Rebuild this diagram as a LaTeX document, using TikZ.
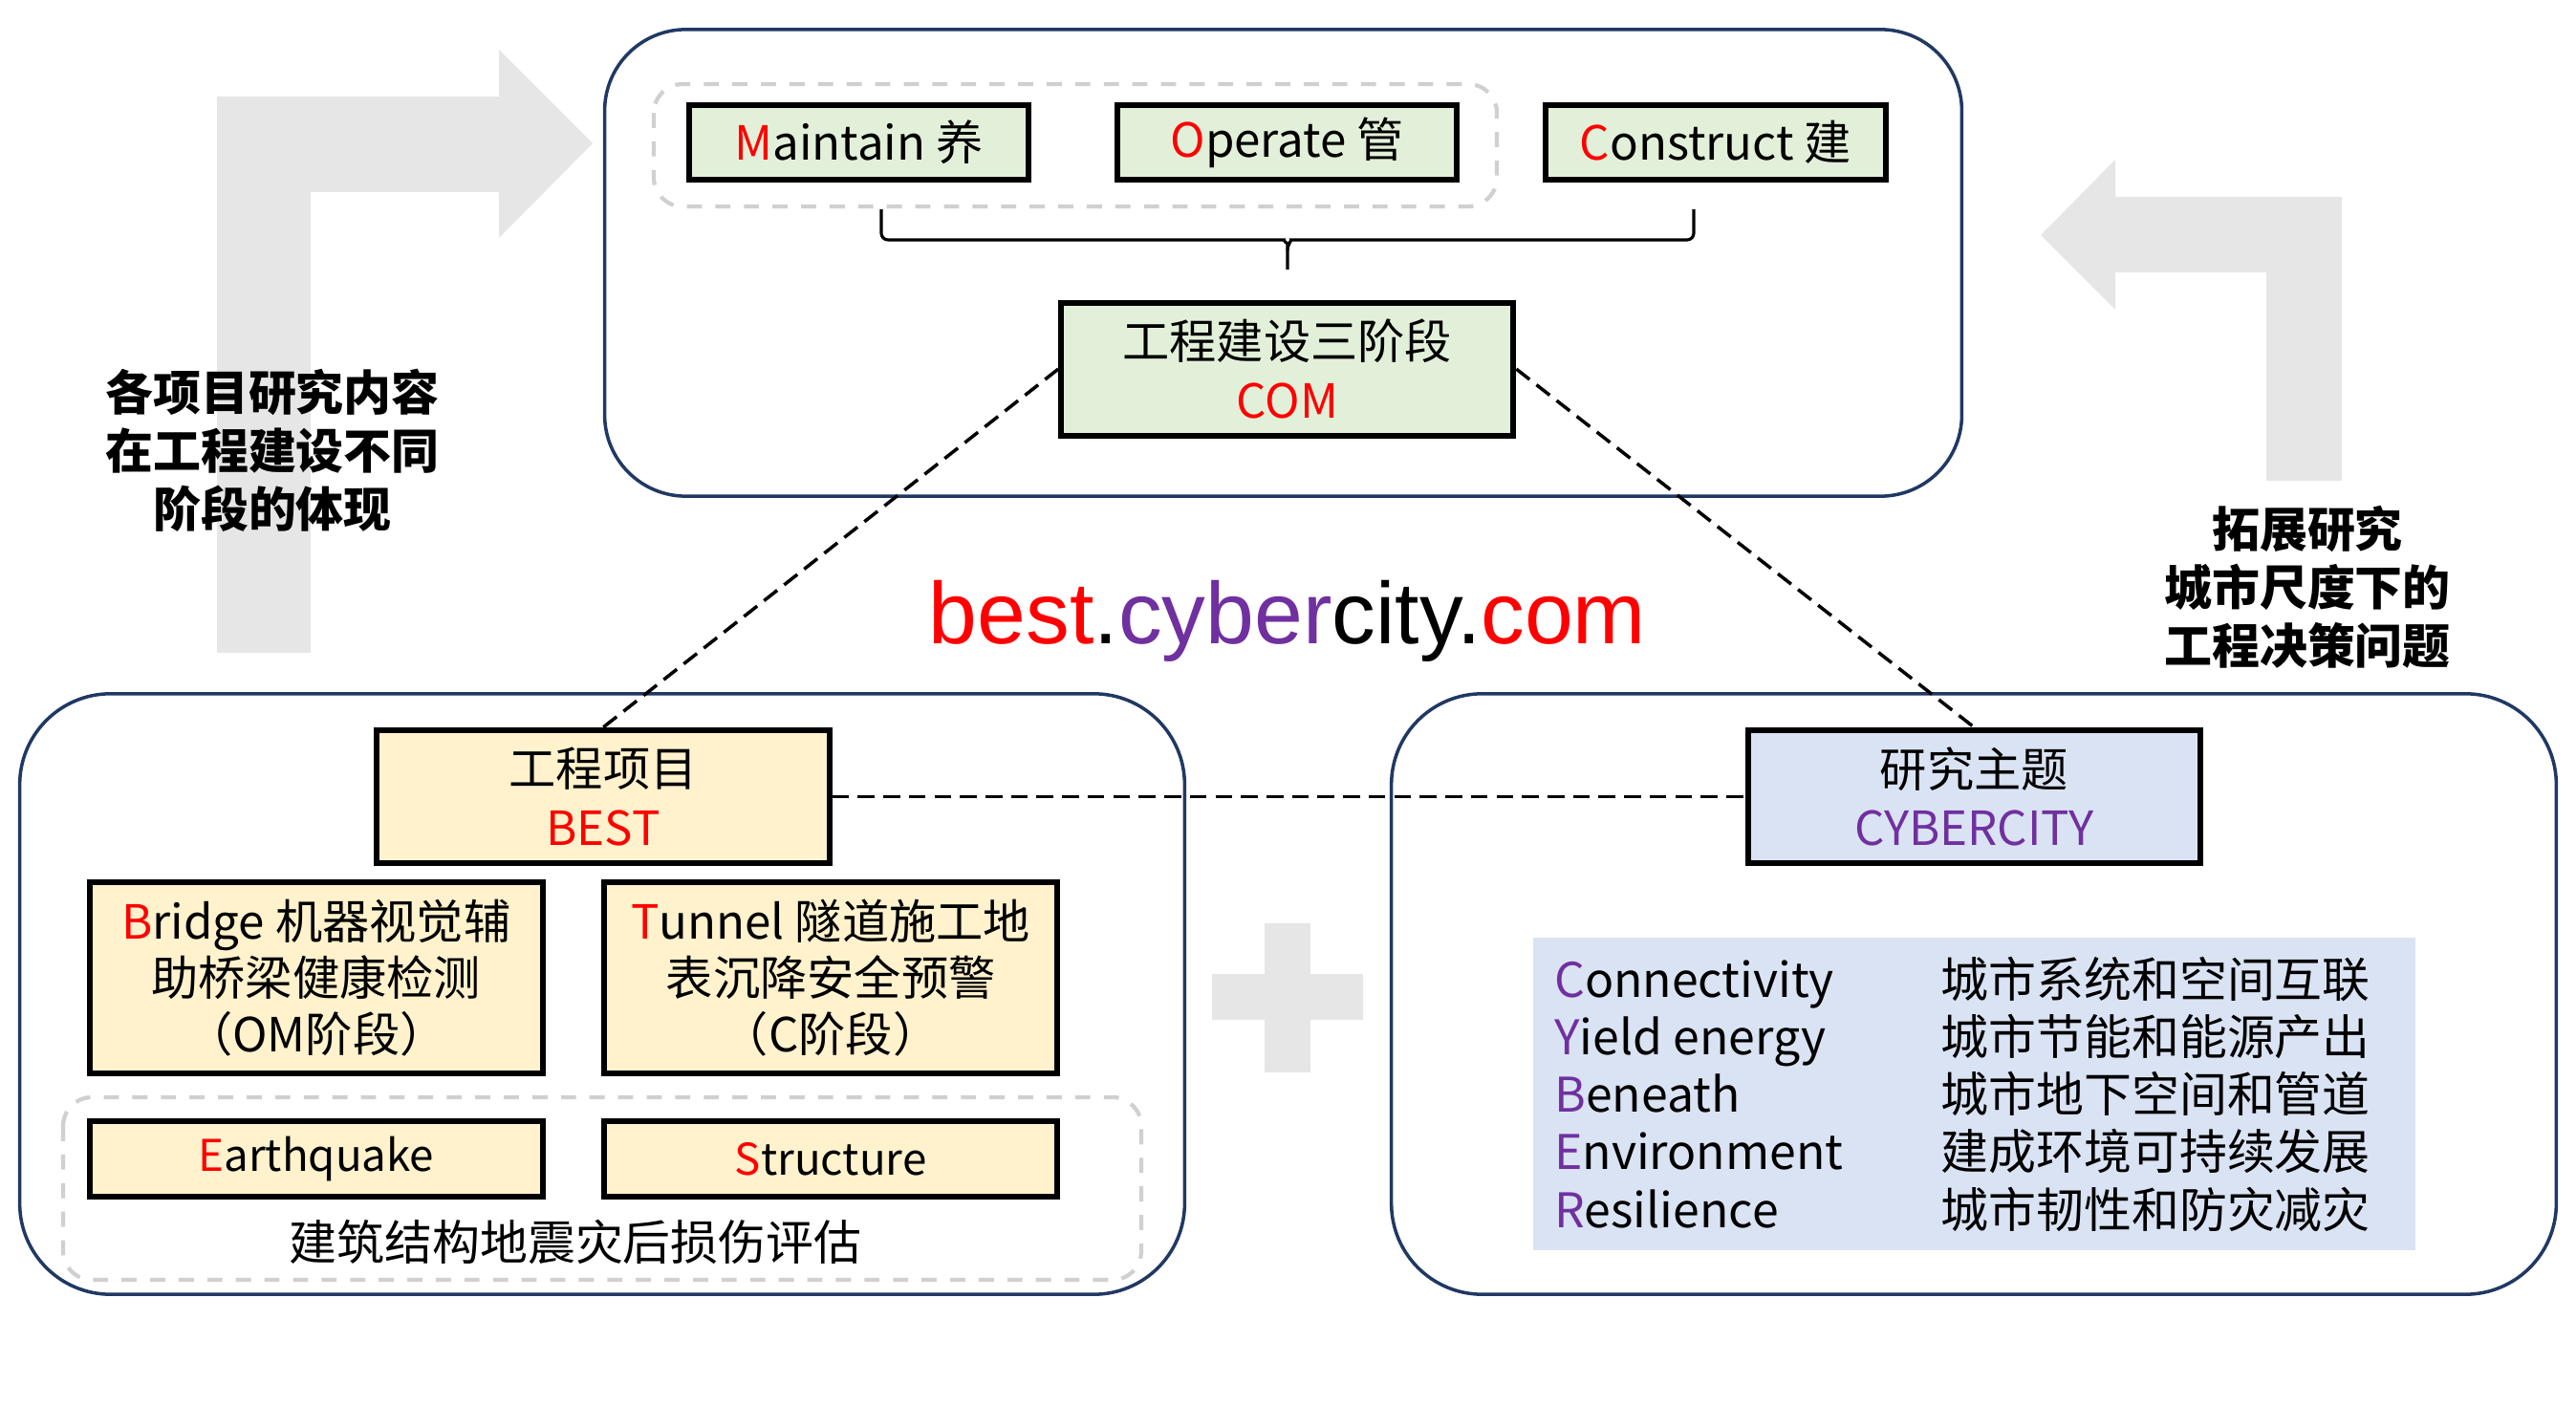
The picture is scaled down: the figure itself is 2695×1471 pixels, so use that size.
\documentclass[tikz,border=0pt]{standalone}
\usepackage{fontspec}
\setmainfont{Noto Sans CJK SC}
\newfontfamily\urlfont{Liberation Sans}
\usepackage{tikz}
\usetikzlibrary{positioning}

\definecolor{comgreen}{HTML}{E2F0D9}
\definecolor{bestyellow}{HTML}{FFF2CC}
\definecolor{cyberblue}{HTML}{DAE3F3}
\definecolor{framenavy}{HTML}{203864}
\definecolor{lightgrey}{HTML}{E6E6E6}
\definecolor{dashgrey}{HTML}{D0D0D0}
\definecolor{cyberpurple}{HTML}{7030A0}

\newcommand{\rd}[1]{\textcolor{red}{#1}}
\newcommand{\pu}[1]{\textcolor{cyberpurple}{#1}}

\begin{document}
\begin{tikzpicture}[x=0.01cm,y=-0.01cm,node distance=4.48cm,on grid,
		box/.style={draw=black,line width=1.7pt,inner sep=0pt,align=center,font=\fontsize{14}{17.6}\selectfont},
		phase/.style={box,fill=comgreen,minimum width=3.55cm,minimum height=0.78cm},
		head/.style={box,minimum width=4.73cm,minimum height=1.39cm},
		item/.style={box,fill=bestyellow,minimum width=4.74cm,font=\fontsize{14}{16.7}\selectfont},
		frame/.style={draw=framenavy,line width=1pt,inner sep=0pt},
		group/.style={draw=dashgrey,line width=1.2pt,dash pattern=on 4.5pt off 4pt,rounded corners=0.3cm},
		link/.style={black,line width=1pt,dash pattern=on 5pt off 2.6pt},
		bracket/.style={black,line width=0.9pt,rounded corners=2pt},
		note/.style={align=center,font=\bfseries\fontsize{14.2}{17.4}\selectfont}]
	\useasboundingbox (0,0) rectangle (2695,1471);

	\fill[lightgrey] (227,683) -- (227,101) -- (522,101) -- (522,52) -- (620,150) -- (522,249) -- (522,201) -- (325,201) -- (325,683) -- cycle;
	\fill[lightgrey] (2450,503) -- (2450,206) -- (2213,206) -- (2213,167) -- (2135,246) -- (2213,324) -- (2213,285) -- (2371,285) -- (2371,503) -- cycle;
	\fill[lightgrey] (1323,966) rectangle (1371,1122);
	\fill[lightgrey] (1268,1019) rectangle (1426,1067);

	\node[frame,rounded corners=0.85cm,minimum width=14.19cm,minimum height=4.88cm] (topframe) at (1342.5,275) {};
	\node[frame,rounded corners=0.95cm,minimum width=12.18cm,minimum height=6.28cm] (bestframe) at (630,1040) {};
	\node[frame,rounded corners=0.95cm,minimum width=12.18cm,minimum height=6.28cm] (cyberframe) at (2065,1040) {};

	\draw[group] (684,88) rectangle (1566,216);
	\draw[group] (66,1148) rectangle (1194,1339);

	\node[phase] (maint) at (898.5,149) {\rd{M}aintain 养};
	\node[phase] (oper) [right=of maint] {\rd{O}perate 管};
	\node[phase] (cons) [right=of oper] {\rd{C}onstruct 建};
	\node[head,fill=comgreen] (com) [below=2.37cm of oper] {工程建设三阶段\\\rd{COM}};

	\coordinate (bl) at (922,219);
	\coordinate (br) at (1772,219);
	\coordinate (bm) at (1347,251);
	\coordinate (bt) at (1347,282);
	\draw[bracket] (bl) |- ([xshift=-3pt]bm) to[out=0,in=90] ([yshift=-3pt]bm) -- (bt);
	\draw[bracket] (br) |- ([xshift=3pt]bm) to[out=180,in=90] ([yshift=-3pt]bm);

	\node[head,fill=bestyellow] (best) at (631,833.5) {工程项目\\\rd{BEST}};
	\node[head,fill=cyberblue] (cyber) [right=14.335cm of best] {研究主题\\\pu{CYBERCITY}};

	\node[item,minimum height=2cm] (bridge) [below left=1.895cm and 3cm of best] {\rd{B}ridge 机器视觉辅\\助桥梁健康检测\\（OM阶段）};
	\node[item,minimum height=2cm] (tunnel) [right=5.38cm of bridge] {\rd{T}unnel 隧道施工地\\表沉降安全预警\\（C阶段）};
	\node[item,minimum height=0.79cm,font=\fontsize{13}{15}\selectfont] (quake) [below=1.895cm of bridge] {\rd{E}arthquake};
	\node[item,minimum height=0.79cm,font=\fontsize{13}{15}\selectfont] (struct) [right=5.38cm of quake] {\rd{S}tructure};
	\node[font=\fontsize{14.2}{17}\selectfont] (damage) at (602,1299) {建筑结构地震灾后损伤评估};

	\node[fill=cyberblue,minimum width=9.23cm,minimum height=3.27cm,inner sep=0pt] (themes) at (2065.5,1144.5) {};
	\node[inner sep=0pt] (themetext) at (2053,1151.5)
		{\fontsize{14.2}{17}\selectfont\begin{tabular}{@{}p{4.04cm}@{}l@{}}
			\pu{C}onnectivity & 城市系统和空间互联\\
			\pu{Y}ield energy & 城市节能和能源产出\\
			\pu{B}eneath & 城市地下空间和管道\\
			\pu{E}nvironment & 建成环境可持续发展\\
			\pu{R}esilience & 城市韧性和防灾减灾
		\end{tabular}};

	\node[anchor=base,font=\urlfont\fontsize{26}{30}\selectfont] (url) at (1347,674) {\rd{best}.\pu{cyber}city.\rd{com}};

	\node[note] (lnote) at (285,471) {各项目研究内容\\在工程建设不同\\阶段的体现};
	\node[note] (rnote) at (2414,614) {拓展研究\\城市尺度下的\\工程决策问题};

	\draw[link] (com.west) -- (best.north);
	\draw[link] (com.east) -- (cyber.north);
	\draw[link] (best.east) -- (cyber.west);
\end{tikzpicture}
\end{document}
